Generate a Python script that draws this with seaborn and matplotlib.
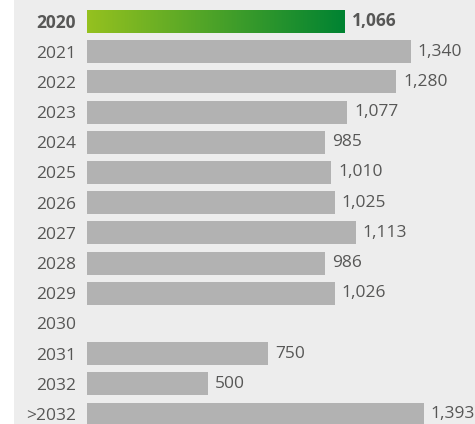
import numpy as np
import pandas as pd
import matplotlib
matplotlib.use("Agg")
import matplotlib.pyplot as plt
from matplotlib.colors import LinearSegmentedColormap
from matplotlib.patches import Rectangle
import seaborn as sns

# Dados
anos = ['2020', '2021', '2022', '2023', '2024', '2025', '2026', '2027',
        '2028', '2029', '2030', '2031', '2032', '>2032']
valores = [1066, 1340, 1280, 1077, 985, 1010, 1025, 1113,
           986, 1026, np.nan, 750, 500, 1393]

df = pd.DataFrame({'Ano': anos, 'Valor': valores})

sns.set_style("white")
plt.rcParams['font.family'] = ['Open Sans', 'DejaVu Sans']

cor_fundo = '#ededed'
cor_barra = '#b2b2b2'
cor_texto = '#575756'
tam = 12.5

fig = plt.figure(figsize=(4.75, 4.24), dpi=100)
fig.patch.set_facecolor('white')
fig.patches.append(Rectangle((14 / 475, 0), 1, 1, transform=fig.transFigure,
                             facecolor=cor_fundo, edgecolor='none', zorder=-1))

ax = fig.add_axes([87 / 475, 0, 1 - 87 / 475, 1])
ax.set_facecolor('none')
sns.barplot(data=df, y='Ano', x='Valor', orient='h', color=cor_barra,
            width=0.76, saturation=1, linewidth=0, ax=ax)

# Primeira barra com gradiente verde
gradiente = LinearSegmentedColormap.from_list('verde', ['#95c11f', '#008332'])
p = ax.patches[0]
x0, y0 = p.get_x(), p.get_y()
w, h = p.get_width(), p.get_height()
p.set_facecolor('none')
ax.imshow(np.linspace(0, 1, 256).reshape(1, -1), cmap=gradiente, aspect='auto',
          extent=(x0, x0 + w, y0 + h, y0), zorder=3)
ax.set_xlim(0, 1605)
ax.set_ylim(13.33, -0.712)

# Rótulos de valor
for i, v in enumerate(valores):
    if np.isnan(v):
        continue
    ax.text(v + 28, i, f'{int(v):,}', va='center', ha='left', fontsize=tam,
            color=cor_texto, fontweight='bold' if i == 0 else 'normal')

ax.set_xlabel('')
ax.set_ylabel('')
ax.set_xticks([])
ax.tick_params(axis='y', length=0, pad=8, labelsize=tam, labelcolor=cor_texto)
ax.get_yticklabels()[0].set_fontweight('bold')
for s in ax.spines.values():
    s.set_visible(False)

fig.savefig('out.png', dpi=100, facecolor=fig.get_facecolor())
